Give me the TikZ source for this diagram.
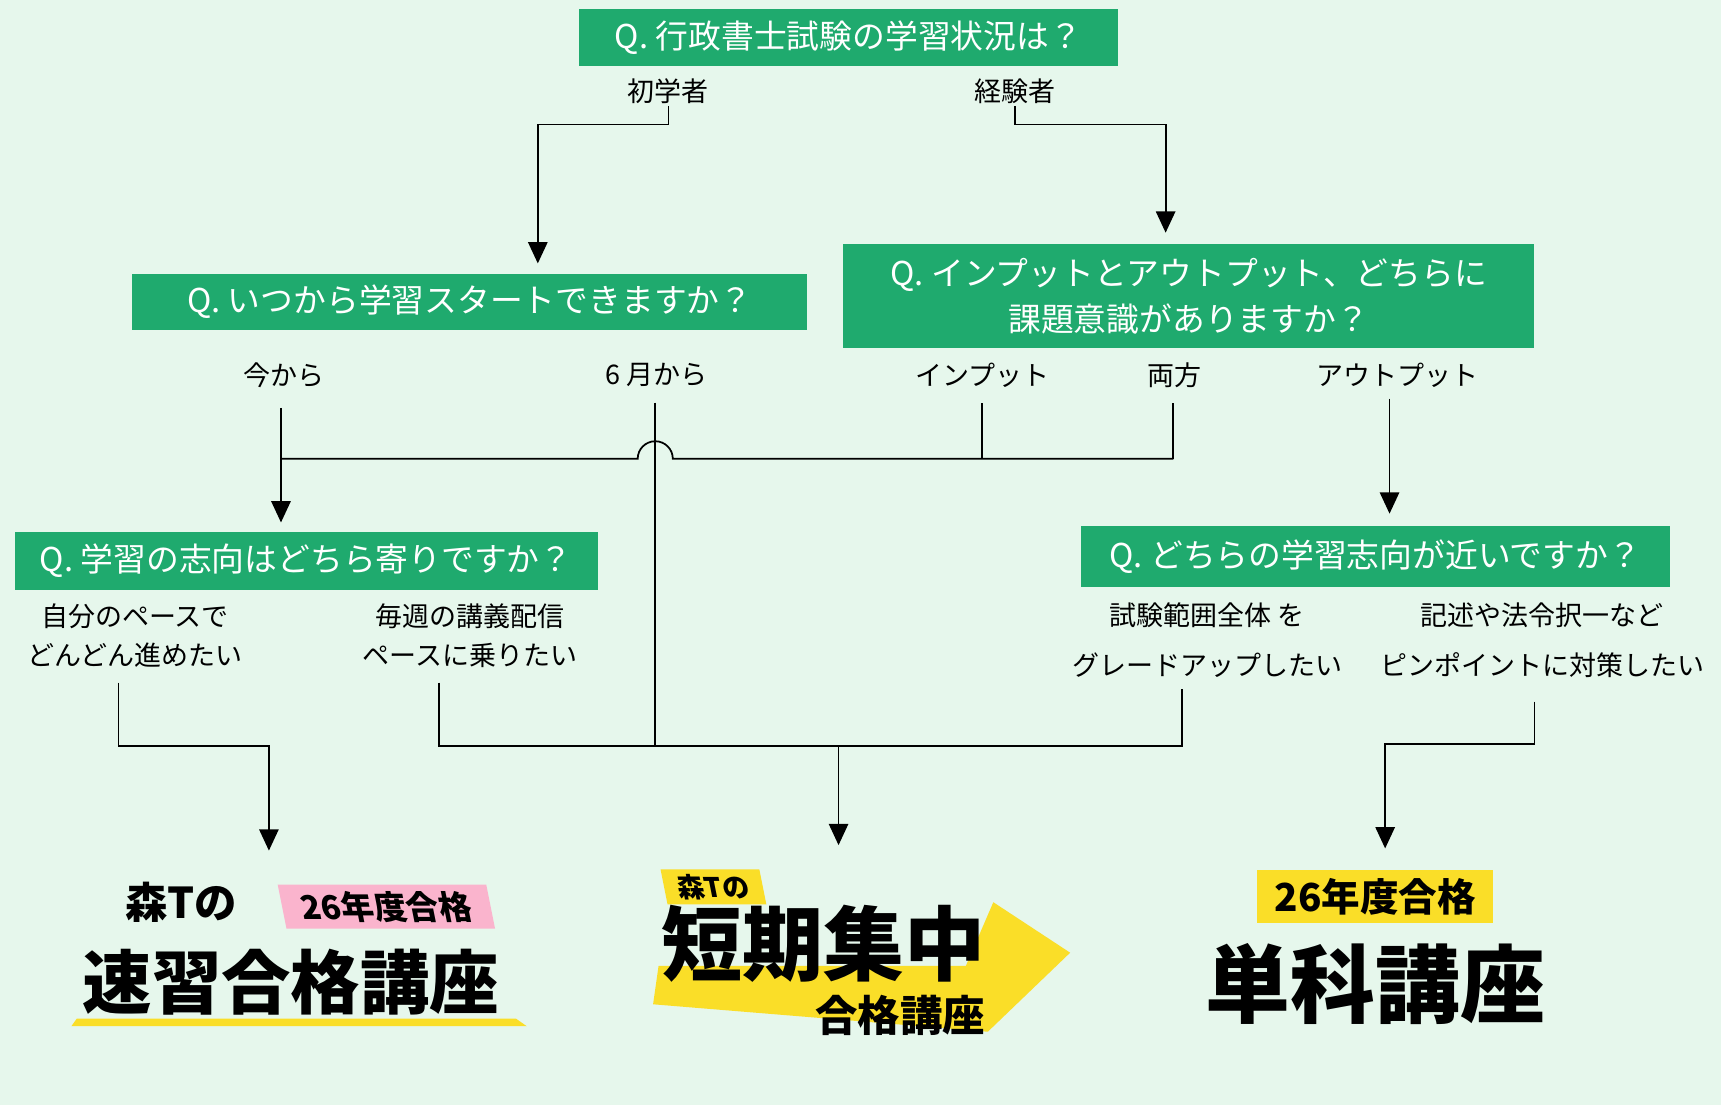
\documentclass[tikz,border=0pt]{standalone}
\usepackage{fontspec}
\setmainfont{Noto Sans CJK JP}
\usetikzlibrary{positioning,arrows.meta,calc}
\definecolor{bgcolor}{RGB}{230,247,236}
\definecolor{qcolor}{RGB}{31,170,110}
\definecolor{logoyellow}{RGB}{250,222,40}
\definecolor{logopink}{RGB}{250,180,205}

\begin{document}
\begin{tikzpicture}[
  x=0.02cm, y=-0.02cm,
  question/.style={fill=qcolor, text=white, font=\fontsize{17}{24}\selectfont, align=center, inner sep=0pt},
  answer/.style={font=\fontsize{14}{20}\selectfont, align=center, inner sep=1pt},
  arrow/.style={-{Triangle[length=11pt,width=10pt]}, line width=0.9pt},
  line/.style={line width=0.9pt},
  logo/.style={font=\bfseries, inner sep=0pt}
]
  % Background
  \fill[bgcolor] (0,0) rectangle (1568,1007);
  \useasboundingbox (0,0) rectangle (1568,1007);

  % Questions
  \node[question, minimum width=491*0.02cm, minimum height=52*0.02cm] (q1) at (773,34) {Q. 行政書士試験の学習状況は？};
  \node[question, minimum width=615*0.02cm, minimum height=51*0.02cm] (q2) at (428,275) {Q. いつから学習スタートできますか？};
  \node[question, minimum width=630*0.02cm, minimum height=95*0.02cm] (q3) at (1083,270) {Q. インプットとアウトプット、どちらに\\課題意識がありますか？};
  \node[question, minimum width=531*0.02cm, minimum height=53*0.02cm] (q4) at (279,511) {Q. 学習の志向はどちら寄りですか？};
  \node[question, minimum width=537*0.02cm, minimum height=55*0.02cm] (q5) at (1253,507) {Q. どちらの学習志向が近いですか？};

  % Answers
  \node[answer] (shoki) at (609,83) {初学者};
  \node[answer] (keiken) at (925,83) {経験者};
  \node[answer] (ima) at (259,342) {今から};
  \node[answer] (june) at (598,342) {6 月から};
  \node[answer] (input) at (895,342) {インプット};
  \node[answer] (both) at (1070,342) {両方};
  \node[answer] (output) at (1273,342) {アウトプット};
  \node[answer] (jibun) at (123,579) {自分のペースで\\どんどん進めたい};
  \node[answer] (maishu) at (428,579) {毎週の講義配信\\ペースに乗りたい};
  \node[answer, font=\fontsize{14}{26}\selectfont] (zentai) at (1100,583) {試験範囲全体 を\\グレードアップしたい};
  \node[answer, font=\fontsize{14}{26}\selectfont] (point) at (1405,583) {記述や法令択一など\\ピンポイントに対策したい};

  % Courses
  \node[logo, font=\fontsize{22}{22}\bfseries\itshape] (sokuT) at (165,822) {森Tの};
  \node[logo, fill=logopink, xslant=-0.2, minimum width=190*0.02cm, minimum height=40*0.02cm,
    font=\fontsize{17}{17}\bfseries] (soku26) at (352,826) {26年度合格};
  \fill[logoyellow] (70,928) -- (470,928) -- (480,935) -- (65,935) -- cycle;
  \node[logo, font=\fontsize{36}{36}\bfseries] (soku) at (265,895) {速習合格講座};

  \fill[logoyellow] (600,880) -- (880,880) -- (905,822) -- (975,868) -- (900,940) -- (595,915) -- cycle;
  \node[logo, fill=logoyellow, xslant=-0.2, minimum width=90*0.02cm, minimum height=32*0.02cm,
    font=\fontsize{14}{14}\bfseries] (tanT) at (650,808) {森Tの};
  \node[logo, font=\fontsize{42}{42}\bfseries] (tanki) at (750,860) {短期集中};
  \node[logo, font=\fontsize{22}{22}\bfseries] (tankigo) at (820,925) {合格講座};

  \node[logo, fill=logoyellow, minimum width=215*0.02cm, minimum height=48*0.02cm,
    font=\fontsize{20}{20}\bfseries] (tanka26) at (1253,817) {26年度合格};
  \node[logo, font=\fontsize{44}{44}\bfseries] (tanka) at (1253,897) {単科講座};

  % Coordinates for elbows
  \coordinate (hopL) at (581,418);
  \coordinate (bus) at (764,680);

  % Connectors
  \draw[arrow] (shoki.south) -- ++(0,17) -| (490,240);
  \draw[arrow] (keiken.south) -- ++(0,17) -| (1062,212);
  \draw[arrow] (ima.south) ++(-3,16) -- (256,476);
  \draw[line] (256,418) -- (hopL) arc[start angle=180, end angle=360, radius=16] -- (1069,418);
  \draw[line] (input.south) ++(0,12) -- (895,418);
  \draw[line] (both.south) ++(-1,12) -- (1069,418);
  \draw[line] (june.south) ++(-1,12) -- (597,680);
  \draw[arrow] (output.south) ++(-7,8) -- (1266,468);
  \draw[arrow] (jibun.south) ++(-15,12) |- (245,680) -- (245,775);
  \draw[line] (maishu.south) ++(-28,12) |- (1077,680) -- (1077,628);
  \draw[arrow] (bus) -- (764,770);
  \draw[arrow] (point.south) ++(-7,20) |- (1262,678) -- (1262,773);
\end{tikzpicture}
\end{document}
